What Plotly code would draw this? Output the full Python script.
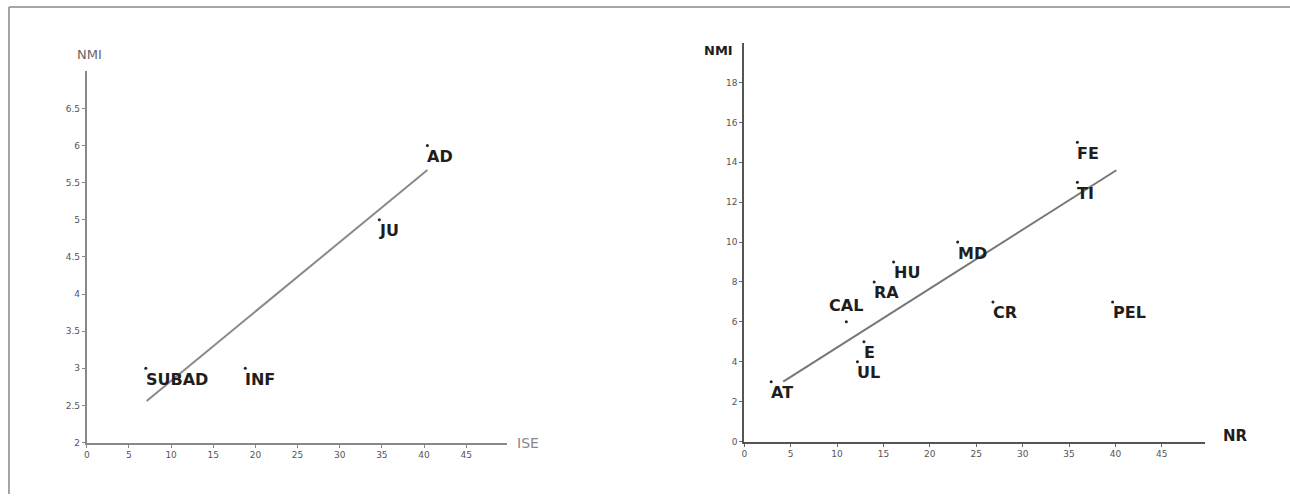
import plotly.graph_objects as go

W, H = 1290, 499

# ---- left panel data (ISE vs NMI) ----
left_labels = ["SUBAD", "INF", "JU", "AD"]
left_x = [7.0, 18.8, 34.7, 40.4]
left_y = [3.0, 3.0, 5.0, 6.0]
left_fit_x = [7.1, 40.4]
left_fit_y = [2.56, 5.67]
left_xticks = [0, 5, 10, 15, 20, 25, 30, 35, 40, 45]
left_yticks = [2, 2.5, 3, 3.5, 4, 4.5, 5, 5.5, 6, 6.5]
left_yticklabels = ["2", "2.5", "3", "3.5", "4", "4.5", "5", "5.5", "6", "6.5"]

# ---- right panel data (NR vs NMI) ----
right_labels = ["AT", "CAL", "E", "UL", "RA", "HU", "MD", "CR", "PEL", "TI", "FE"]
right_x = [2.9, 11.0, 12.9, 12.2, 14.0, 16.1, 23.0, 26.8, 39.7, 35.9, 35.9]
right_y = [3.0, 6.0, 5.0, 4.0, 8.0, 9.0, 10.0, 7.0, 7.0, 13.0, 15.0]
right_fit_x = [4.2, 40.1]
right_fit_y = [3.0, 13.6]
right_xticks = [0, 5, 10, 15, 20, 25, 30, 35, 40, 45]
right_yticks = [0, 2, 4, 6, 8, 10, 12, 14, 16, 18]

def px_x(p):
    return p / W

def px_y(p):
    return 1 - p / H

label_font = dict(family="DejaVu Sans, sans-serif", size=16, color="#1e1e1e", weight="bold")
tick_font = dict(family="DejaVu Sans, sans-serif", size=9, color="#555")

fig = go.Figure()

# left panel
fig.add_trace(go.Scatter(x=left_fit_x, y=left_fit_y, mode="lines",
                         line=dict(color="#8a8a8a", width=2), xaxis="x", yaxis="y",
                         hoverinfo="skip"))
fig.add_trace(go.Scatter(x=left_x, y=left_y, mode="markers",
                         marker=dict(color="#222", size=3), xaxis="x", yaxis="y"))

# right panel
fig.add_trace(go.Scatter(x=right_fit_x, y=right_fit_y, mode="lines",
                         line=dict(color="#777", width=2), xaxis="x2", yaxis="y2",
                         hoverinfo="skip"))
fig.add_trace(go.Scatter(x=right_x, y=right_y, mode="markers",
                         marker=dict(color="#222", size=3), xaxis="x2", yaxis="y2"))

# point labels
for lab, xv, yv in zip(left_labels, left_x, left_y):
    fig.add_annotation(text=lab, x=xv, y=yv, xref="x", yref="y", showarrow=False,
                       xanchor="left", yanchor="middle", xshift=-2, yshift=-11,
                       font=label_font)
for lab, xv, yv in zip(right_labels, right_x, right_y):
    if lab == "CAL":
        fig.add_annotation(text=lab, x=xv, y=yv, xref="x2", yref="y2", showarrow=False,
                           xanchor="center", yanchor="middle", yshift=16, font=label_font)
    else:
        fig.add_annotation(text=lab, x=xv, y=yv, xref="x2", yref="y2", showarrow=False,
                           xanchor="left", yanchor="middle", xshift=-2, yshift=-11,
                           font=label_font)

axis_common = dict(showgrid=False, zeroline=False, showline=True, ticks="outside",
                   ticklen=3, tickwidth=1, tickfont=tick_font, fixedrange=True)

fig.update_layout(
    width=W, height=H,
    margin=dict(l=0, r=0, t=0, b=0),
    paper_bgcolor="white", plot_bgcolor="white",
    showlegend=False,
    xaxis=dict(domain=[px_x(84), px_x(505)], range=[0, (505 - 84) / 8.45], anchor="y",
               tickvals=left_xticks, linecolor="#888", linewidth=2, tickcolor="#888",
               **axis_common),
    yaxis=dict(domain=[px_y(447), px_y(72)], range=[2, 7], anchor="x",
               tickvals=left_yticks, ticktext=left_yticklabels,
               linecolor="#888", linewidth=2, tickcolor="#888", **axis_common),
    xaxis2=dict(domain=[px_x(743), px_x(1205)], range=[0, (1205 - 743) / 9.3], anchor="y2",
                tickvals=right_xticks, linecolor="#555", linewidth=2, tickcolor="#666",
                **axis_common),
    yaxis2=dict(domain=[px_y(446), px_y(43)], range=[0, 20], anchor="x2",
                tickvals=right_yticks, linecolor="#555", linewidth=2, tickcolor="#666",
                **axis_common),
)

title_kw = dict(xref="paper", yref="paper", showarrow=False, xanchor="center", yanchor="middle")
fig.add_annotation(text="NMI", x=px_x(87), y=px_y(55),
                   font=dict(family="DejaVu Sans, sans-serif", size=13, color="#666"), **title_kw)
fig.add_annotation(text="ISE", x=px_x(526), y=px_y(447),
                   font=dict(family="DejaVu Sans, sans-serif", size=14, color="#888"), **title_kw)
fig.add_annotation(text="NMI", x=px_x(717), y=px_y(51),
                   font=dict(family="DejaVu Sans, sans-serif", size=13, color="#1e1e1e",
                             weight="bold"), **title_kw)
fig.add_annotation(text="NR", x=px_x(1235), y=px_y(440),
                   font=dict(family="DejaVu Sans, sans-serif", size=15, color="#1e1e1e",
                             weight="bold"), **title_kw)

# frame lines (top and left)
fig.add_shape(type="line", xref="paper", yref="paper", x0=px_x(6), x1=1, y0=px_y(7), y1=px_y(7),
              line=dict(color="#888", width=1.5))
fig.add_shape(type="line", xref="paper", yref="paper", x0=px_x(6), x1=px_x(6), y0=px_y(7), y1=0,
              line=dict(color="#888", width=1.5))

fig.write_html("out.html")
